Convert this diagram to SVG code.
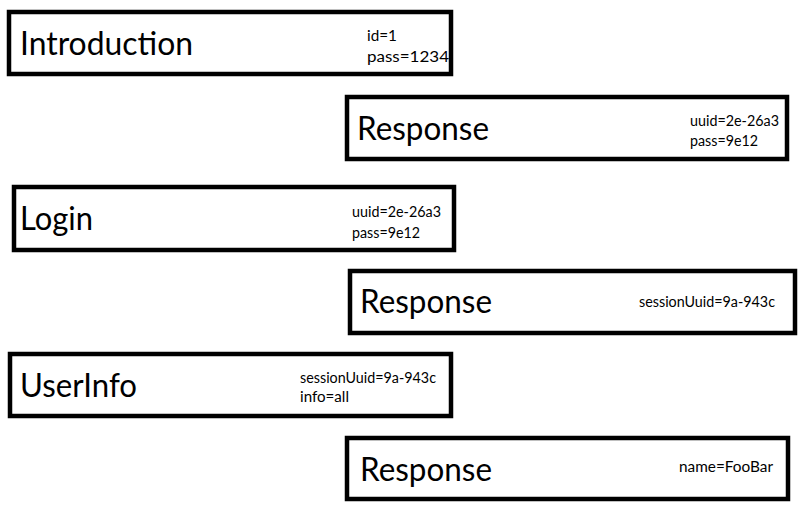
<svg xmlns="http://www.w3.org/2000/svg" width="800" height="515" viewBox="0 0 800 515">
<style>
.box{fill:#fff;stroke:#000;stroke-width:4.5}
.t{font-family:Lato,"Liberation Sans",sans-serif;font-size:32px;fill:#000}
.s{font-family:Lato,"Liberation Sans",sans-serif;font-size:14.5px;fill:#000}
</style>
<rect width="800" height="515" fill="#fff"/>
<g id="introduction">
<rect class="box" x="9" y="12" width="442" height="62"/>
<text class="t" x="20" y="55" textLength="173" lengthAdjust="spacingAndGlyphs">Introduction</text>
<text class="s" x="367" y="41" textLength="30" lengthAdjust="spacingAndGlyphs">id=1</text>
<text class="s" x="367" y="62" textLength="82" lengthAdjust="spacingAndGlyphs">pass=1234</text>
</g>
<g id="response1">
<rect class="box" x="347" y="97" width="440" height="62"/>
<text class="t" x="357" y="140" textLength="132" lengthAdjust="spacingAndGlyphs">Response</text>
<text class="s" x="690" y="126" textLength="89" lengthAdjust="spacingAndGlyphs">uuid=2e-26a3</text>
<text class="s" x="690" y="146" textLength="68" lengthAdjust="spacingAndGlyphs">pass=9e12</text>
</g>
<g id="login">
<rect class="box" x="14" y="187" width="440" height="63"/>
<text class="t" x="20" y="230" textLength="73" lengthAdjust="spacingAndGlyphs">Login</text>
<text class="s" x="352" y="217" textLength="89" lengthAdjust="spacingAndGlyphs">uuid=2e-26a3</text>
<text class="s" x="352" y="238" textLength="68" lengthAdjust="spacingAndGlyphs">pass=9e12</text>
</g>
<g id="response2">
<rect class="box" x="350" y="271" width="445" height="62"/>
<text class="t" x="360" y="313" textLength="132" lengthAdjust="spacingAndGlyphs">Response</text>
<text class="s" x="639" y="307" textLength="136" lengthAdjust="spacingAndGlyphs">sessionUuid=9a-943c</text>
</g>
<g id="userinfo">
<rect class="box" x="10" y="354" width="441" height="62"/>
<text class="t" x="20" y="397" textLength="117" lengthAdjust="spacingAndGlyphs">UserInfo</text>
<text class="s" x="300" y="383" textLength="136" lengthAdjust="spacingAndGlyphs">sessionUuid=9a-943c</text>
<text class="s" x="300" y="402" textLength="49" lengthAdjust="spacingAndGlyphs">info=all</text>
</g>
<g id="response3">
<rect class="box" x="347" y="438" width="441" height="61"/>
<text class="t" x="360" y="481" textLength="132" lengthAdjust="spacingAndGlyphs">Response</text>
<text class="s" x="679" y="472" textLength="94" lengthAdjust="spacingAndGlyphs">name=FooBar</text>
</g>
</svg>
